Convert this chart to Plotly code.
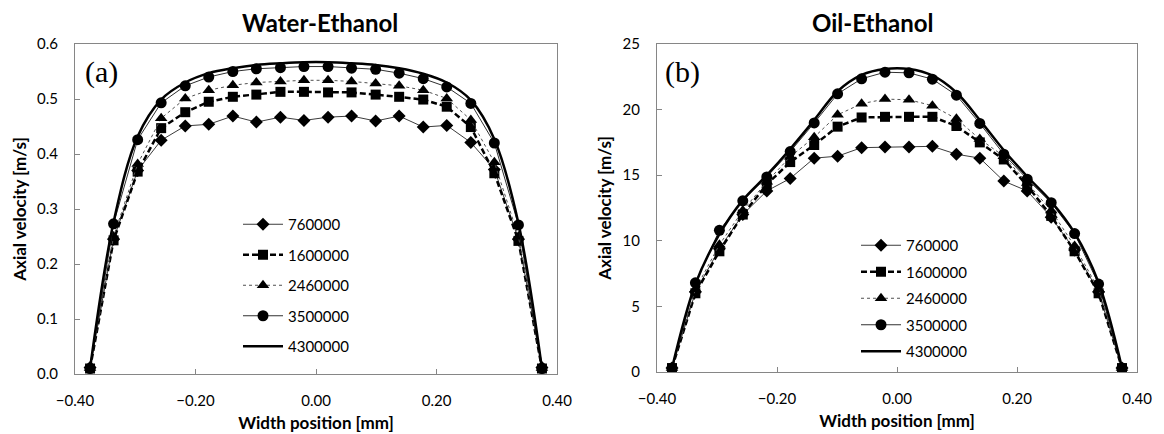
import plotly.graph_objects as go

# ---------------- data ----------------
width_pos = [-0.375, -0.336, -0.296, -0.257, -0.217, -0.178, -0.138, -0.099, -0.059, -0.020,
             0.020, 0.059, 0.099, 0.138, 0.178, 0.217, 0.257, 0.296, 0.336, 0.375]

series_names = ["760000", "1600000", "2460000", "3500000", "4300000"]

# Water-Ethanol axial velocity [m/s]
we_760000 = [0.012, 0.245, 0.370, 0.425, 0.451, 0.454, 0.469, 0.458, 0.467, 0.461,
             0.467, 0.469, 0.460, 0.469, 0.449, 0.452, 0.421, 0.372, 0.245, 0.012]
we_1600000 = [0.010, 0.243, 0.368, 0.447, 0.476, 0.495, 0.504, 0.508, 0.513, 0.513,
              0.512, 0.512, 0.508, 0.504, 0.499, 0.486, 0.449, 0.365, 0.242, 0.010]
we_2460000 = [0.011, 0.250, 0.382, 0.465, 0.501, 0.516, 0.525, 0.530, 0.532, 0.534,
              0.534, 0.532, 0.528, 0.524, 0.516, 0.501, 0.462, 0.385, 0.250, 0.011]
we_3500000 = [0.010, 0.273, 0.426, 0.493, 0.524, 0.540, 0.550, 0.555, 0.557, 0.559,
              0.559, 0.556, 0.554, 0.547, 0.537, 0.522, 0.492, 0.420, 0.271, 0.010]
we_4300000 = [0.010, 0.276, 0.432, 0.499, 0.530, 0.547, 0.556, 0.562, 0.565, 0.567,
              0.567, 0.565, 0.562, 0.556, 0.546, 0.530, 0.498, 0.427, 0.274, 0.010]

# Oil-Ethanol axial velocity [m/s]
oe_760000 = [0.3, 6.1, 9.4, 12.0, 13.8, 14.75, 16.3, 16.45, 17.1, 17.15,
             17.15, 17.2, 16.6, 16.3, 14.55, 13.8, 11.8, 9.3, 6.1, 0.3]
oe_1600000 = [0.3, 6.0, 9.2, 12.0, 14.3, 16.0, 17.3, 18.7, 19.4, 19.45,
              19.45, 19.45, 18.75, 17.5, 16.2, 14.2, 11.9, 9.2, 6.0, 0.3]
oe_2460000 = [0.3, 6.3, 9.7, 12.3, 14.5, 16.4, 17.9, 19.6, 20.45, 20.8,
              20.75, 20.3, 19.3, 17.75, 16.45, 14.4, 12.3, 9.6, 6.3, 0.3]
oe_3500000 = [0.3, 6.8, 10.8, 13.05, 14.87, 16.8, 18.98, 21.2, 22.35, 22.85,
              22.8, 22.32, 21.1, 18.95, 16.6, 14.7, 12.9, 10.55, 6.7, 0.3]
oe_4300000 = [0.3, 6.7, 10.5, 13.1, 15.0, 17.0, 19.2, 21.4, 22.65, 23.1,
              23.1, 22.6, 21.3, 19.2, 16.9, 14.9, 13.0, 10.6, 6.8, 0.3]

x_ticks = [-0.40, -0.20, 0.00, 0.20, 0.40]
we_yticks = [0.0, 0.1, 0.2, 0.3, 0.4, 0.5, 0.6]
oe_yticks = [0, 5, 10, 15, 20, 25]

# ---------------- styles ----------------
styles = [
    dict(mode="lines+markers", line=dict(color="#3c3c3c", width=1), shape="linear",
         marker=dict(symbol="diamond", size=10, color="black")),
    dict(mode="lines+markers", line=dict(color="black", width=2.5, dash="6px,3px"), shape="linear",
         marker=dict(symbol="square", size=10, color="black")),
    dict(mode="lines+markers", line=dict(color="#505050", width=1, dash="3px,3px"), shape="linear",
         marker=dict(symbol="triangle-up", size=11, color="black")),
    dict(mode="lines+markers", line=dict(color="#303030", width=1), shape="linear",
         marker=dict(symbol="circle", size=11, color="black")),
    dict(mode="lines", line=dict(color="black", width=2.5), shape="spline",
         marker=dict(symbol="circle", size=1, color="black")),
]

fig = go.Figure()

we_data = [we_760000, we_1600000, we_2460000, we_3500000, we_4300000]
oe_data = [oe_760000, oe_1600000, oe_2460000, oe_3500000, oe_4300000]

for i, (name, ys) in enumerate(zip(series_names, we_data)):
    st = styles[i]
    fig.add_trace(go.Scatter(
        x=width_pos, y=ys, name=name, mode=st["mode"],
        line=dict(**st["line"], shape=st["shape"]), marker=st["marker"],
        xaxis="x", yaxis="y", legend="legend", legendgroup="a" + name,
    ))
for i, (name, ys) in enumerate(zip(series_names, oe_data)):
    st = styles[i]
    fig.add_trace(go.Scatter(
        x=width_pos, y=ys, name=name, mode=st["mode"],
        line=dict(**st["line"], shape=st["shape"]), marker=st["marker"],
        xaxis="x2", yaxis="y2", legend="legend2", legendgroup="b" + name,
    ))

# page body has an 8px margin, so the figure is sized to fit inside the window
OFF = 8
W, H = 1164 - OFF, 434 - OFF
def px_x(p):
    return (p - OFF) / W
def px_y(p):
    return (H - (p - OFF)) / H

FONT = "Lato"
axis_common = dict(
    showline=True, linecolor="#868686", linewidth=1, mirror=True,
    ticks="inside", ticklen=5, tickcolor="#868686", tickwidth=1,
    showgrid=False, zeroline=False,
    tickfont=dict(family=FONT, size=15, color="black"),
    title_font=dict(family=FONT, size=17, color="black", weight="bold"),
)

fig.update_layout(
    width=W, height=H,
    margin=dict(l=0, r=0, t=0, b=0, autoexpand=False),
    paper_bgcolor="white", plot_bgcolor="white",
    xaxis=dict(domain=[px_x(75), px_x(557)], range=[-0.4, 0.4], tickvals=x_ticks,
               tickformat=".2f", anchor="y", ticklabelstandoff=13,
               title=dict(text="Width position [mm]", standoff=9), **axis_common),
    yaxis=dict(domain=[px_y(374), px_y(44)], range=[0, 0.6], tickvals=we_yticks,
               tickformat=".1f", anchor="x", ticklabelstandoff=13,
               title=dict(text="Axial velocity [m/s]", standoff=6), **axis_common),
    xaxis2=dict(domain=[px_x(657), px_x(1137)], range=[-0.4, 0.4], tickvals=x_ticks,
                tickformat=".2f", anchor="y2", ticklabelstandoff=13,
                title=dict(text="Width position [mm]", standoff=9), **axis_common),
    yaxis2=dict(domain=[px_y(372), px_y(44)], range=[0, 25], tickvals=oe_yticks,
                tickformat="d", anchor="x2", ticklabelstandoff=13,
                title=dict(text="Axial velocity [m/s]", standoff=6), **axis_common),
    legend=dict(x=px_x(238), y=px_y(208), xanchor="left", yanchor="top",
                bgcolor="rgba(0,0,0,0)", font=dict(family=FONT, size=15, color="black"),
                tracegroupgap=8, itemwidth=40),
    legend2=dict(x=px_x(856), y=px_y(229), xanchor="left", yanchor="top",
                 bgcolor="rgba(0,0,0,0)", font=dict(family=FONT, size=15, color="black"),
                 tracegroupgap=4, itemwidth=40),
    annotations=[
        dict(text="<b>Water-Ethanol</b>", x=px_x(320), y=px_y(22), xref="paper", yref="paper",
             xanchor="center", yanchor="middle",
             showarrow=False, font=dict(family=FONT, size=24, color="black")),
        dict(text="<b>Oil-Ethanol</b>", x=px_x(872), y=px_y(22), xref="paper", yref="paper",
             xanchor="center", yanchor="middle",
             showarrow=False, font=dict(family=FONT, size=24, color="black")),
        dict(text="(a)", x=px_x(83), y=px_y(72), xref="paper", yref="paper",
             xanchor="left", yanchor="middle",
             showarrow=False, font=dict(family="Liberation Serif", size=30, color="black")),
        dict(text="(b)", x=px_x(663), y=px_y(72), xref="paper", yref="paper",
             xanchor="left", yanchor="middle",
             showarrow=False, font=dict(family="Liberation Serif", size=30, color="black")),
    ],
)

fig.write_html("out.html")
